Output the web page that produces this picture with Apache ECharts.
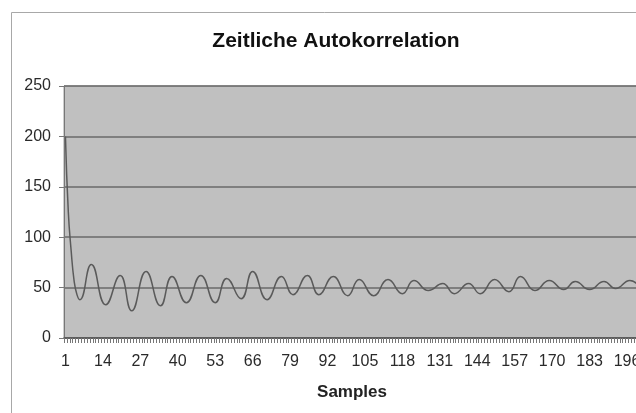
<!DOCTYPE html>
<html><head><meta charset="utf-8">
<script src="https://cdn.jsdelivr.net/npm/echarts@6/dist/echarts.min.js"></script>
<style>html,body{margin:0;padding:0;background:#fff}#c{width:636px;height:413px}</style>
</head><body><div id="c"></div>
<script>
// Categories: samples 1..200
const sampleCount = 200;
const categories = Array.from({length: sampleCount}, (_, i) => String(i + 1));
// Read-off points (sample number, autocorrelation value)
const pointSamples = [1,2,3,4,5,6,10,15,20,24,29,34,38,43,48,53,57,62,66,71,76,80,85,89,94,99,103,108,113,118,122,127,132,136,141,145,150,155,159,164,169,174,178,183,188,192,197,200];
const pointValues  = [200,125,86,57,43,38,73,33,62,27,66,32,61,35,62,35,59,39,66,38,61,43,62,43,61,42,58,42,58,44,57,47,54,44,54,44,58,46,61,47,57,48,56,48,56,49,57,52];
const yTicks = [0,50,100,150,200,250];

const chart = echarts.init(document.getElementById('c'), null, {renderer:'canvas'});
const font = '"Liberation Sans", Arial, sans-serif';
chart.setOption({
  animation: false,
  backgroundColor: '#ffffff',
  title: {
    text: 'Zeitliche Autokorrelation',
    left: 331, top: 26, textAlign: 'center',
    textStyle: {fontFamily: font, fontSize: 21, fontWeight: 'bold', color: '#111'}
  },
  graphic: [
    {type:'line', shape:{x1:11.5,y1:12.5,x2:640,y2:12.5}, style:{stroke:'#a8a8a8', lineWidth:1}, silent:true},
    {type:'line', shape:{x1:11.5,y1:12.5,x2:11.5,y2:413}, style:{stroke:'#a8a8a8', lineWidth:1}, silent:true}
  ],
  grid: {left: 64, top: 86, right: -4, bottom: 75, show: true, backgroundColor: '#c0c0c0', borderColor: '#9a9a9a', borderWidth: 1, outerBoundsMode: 'none'},
  xAxis: {
    type: 'category', data: categories, boundaryGap: true,
    name: 'Samples', nameLocation: 'middle', nameGap: 46,
    nameTextStyle: {fontFamily: font, fontSize: 17, fontWeight: 'bold', color: '#222'},
    axisLine: {show: true, lineStyle: {color: '#555', width: 1.5}},
    axisTick: {show: true, interval: 0, length: 5, lineStyle: {color: '#777'}},
    axisLabel: {interval: 12, margin: 16, fontFamily: font, fontSize: 16, color: '#2a2a2a'},
    splitLine: {show: false}
  },
  yAxis: {
    type: 'value', min: 0, max: 250, interval: 50,
    axisLine: {show: true, lineStyle: {color: '#777'}},
    axisTick: {show: true, length: 5, lineStyle: {color: '#777'}},
    axisLabel: {margin: 13, fontFamily: font, fontSize: 16, color: '#2a2a2a',
      formatter: v => yTicks.includes(v) ? String(v) : ''},
    splitLine: {show: true, lineStyle: {color: '#6a6a6a', width: 1.5}}
  },
  series: [{
    type: 'line',
    data: pointSamples.map((s, i) => [s - 1, pointValues[i]]),
    smooth: 0.5,
    showSymbol: false,
    lineStyle: {color: '#5a5a5a', width: 1.5}
  }]
});
</script></body></html>
